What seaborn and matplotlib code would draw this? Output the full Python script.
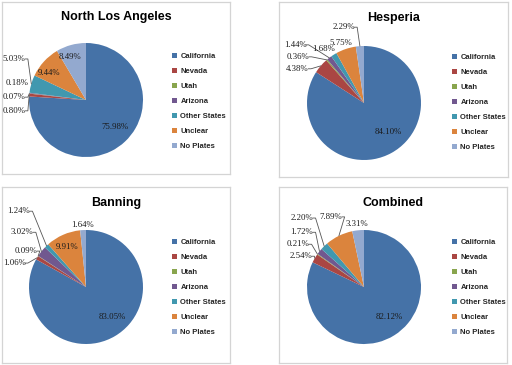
import matplotlib
matplotlib.use("Agg")
import matplotlib.pyplot as plt
import seaborn as sns
import numpy as np

categories = ["California", "Nevada", "Utah", "Arizona", "Other States", "Unclear", "No Plates"]
north_la = [75.98, 0.80, 0.07, 0.18, 5.03, 9.44, 8.49]
hesperia = [84.10, 4.38, 0.36, 1.44, 1.68, 5.75, 2.29]
banning = [83.05, 1.06, 0.09, 3.02, 1.24, 9.91, 1.64]
combined = [82.12, 2.54, 0.21, 1.72, 2.20, 7.89, 3.31]
titles = ["North Los Angeles", "Hesperia", "Banning", "Combined"]

sns.set_theme(style="white")
plt.rcParams["font.family"] = ["Liberation Sans", "DejaVu Sans"]

colors = sns.color_palette(["#4572A7", "#AA4643", "#89A54E", "#71588F",
                            "#4198AF", "#DB843D", "#93A9CF"])

W, H = 512, 365
R = 57
# panel box (x0, y0, x1, y1), pie centre, legend anchor, title y -- in pixels
boxes = [(2, 2, 230, 174), (279, 2, 508, 177), (2, 187, 230, 363), (279, 187, 507, 363)]
centers = [(86, 100), (364, 103), (86, 287), (364, 287)]
leg_anchor = [(172, 53), (452, 54), (172, 239), (452, 239)]
title_y = [17, 18, 203, 203]

# label positions in pie-radius units, and whether a leader line is drawn
label_xy = [
    [(0.51, -0.47), (-1.26, -0.19), (-1.26, 0.05), (-1.21, 0.30), (-1.26, 0.72), (-0.65, 0.47), (-0.28, 0.75)],
    [(0.43, -0.50), (-1.17, 0.60), (-1.16, 0.81), (-1.21, 1.02), (-0.71, 0.95), (-0.41, 1.05), (-0.36, 1.33)],
    [(0.46, -0.53), (-1.26, 0.42), (-1.05, 0.63), (-1.12, 0.96), (-1.18, 1.33), (-0.33, 0.70), (-0.07, 1.09)],
    [(0.44, -0.53), (-1.11, 0.54), (-1.16, 0.75), (-1.09, 0.96), (-1.09, 1.21), (-0.58, 1.23), (-0.12, 1.11)],
]
leaders = [
    [0, 1, 1, 0, 1, 0, 0],
    [0, 1, 1, 1, 0, 0, 1],
    [0, 1, 1, 1, 1, 0, 0],
    [0, 1, 1, 1, 1, 1, 0],
]

fig = plt.figure(figsize=(W / 100, H / 100), dpi=100)

for i, vals in enumerate([north_la, hesperia, banning, combined]):
    x0, y0, x1, y1 = boxes[i]
    cx, cy = centers[i]
    ax = fig.add_axes([x0 / W, 1 - y1 / H, (x1 - x0) / W, (y1 - y0) / H])
    wedges, _ = ax.pie(vals, colors=colors, startangle=90, counterclock=False,
                       wedgeprops=dict(linewidth=0))
    ax.set_xlim((x0 - cx) / R, (x1 - cx) / R)
    ax.set_ylim((cy - y1) / R, (cy - y0) / R)
    ax.set_aspect("auto")
    ax.set_frame_on(True)
    for sp in ax.spines.values():
        sp.set_color("#D4D4D4")
        sp.set_linewidth(0.9)

    for j, w in enumerate(wedges):
        lx, ly = label_xy[i][j]
        ax.text(lx, ly, f"{vals[j]:.2f}%", ha="center", va="center",
                fontsize=6.3, family=["Liberation Serif", "DejaVu Serif"], color="#1a1a1a")
        if leaders[i][j]:
            mid = np.deg2rad((w.theta1 + w.theta2) / 2)
            ex, ey = np.cos(mid), np.sin(mid)
            sx = lx + 0.19
            ax.plot([sx, sx + 0.05, ex], [ly, ly, ey], color="#555555", lw=0.6)

    fig.text((x0 + x1) / 2 / W, 1 - title_y[i] / H, titles[i], ha="center", va="center",
             fontsize=9, fontweight="bold", color="black")

    lx, ly = leg_anchor[i]
    leg = ax.legend(wedges, categories, loc="upper left", bbox_to_anchor=(lx / W, 1 - ly / H),
                    bbox_transform=fig.transFigure, frameon=False, borderpad=0, borderaxespad=0,
                    handlelength=0.7, handleheight=0.7, handletextpad=0.4, labelspacing=1.0,
                    prop=dict(family="Liberation Sans", size=5.5, weight="bold"))
    for t in leg.get_texts():
        t.set_color("#262626")

fig.savefig("out.png", dpi=100)
